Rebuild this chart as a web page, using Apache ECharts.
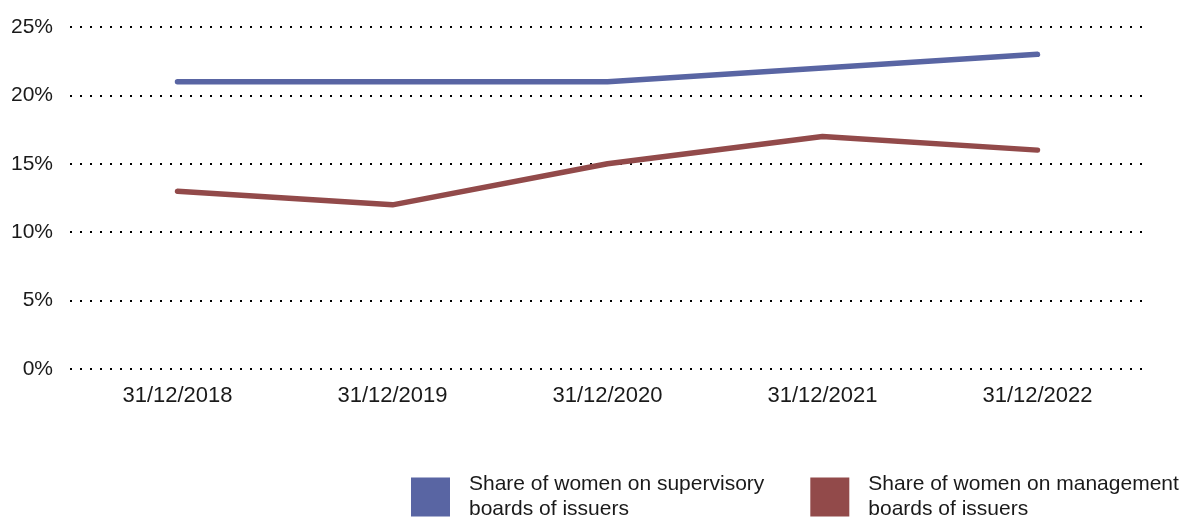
<!DOCTYPE html>
<html>
<head>
<meta charset="utf-8">
<script src="https://cdn.jsdelivr.net/npm/echarts@6/dist/echarts.min.js"></script>
<style>
  html, body { margin: 0; padding: 0; background: #fff; }
  #main { width: 1196px; height: 517px; }
</style>
</head>
<body>
<div id="main"></div>
<script>
// categories and values (percent)
var years = ['31/12/2018', '31/12/2019', '31/12/2020', '31/12/2021', '31/12/2022'];
var supervisory = [21, 21, 21, 22, 23];
var management = [13, 12, 15, 17, 16];
var nameSup = 'Share of women on supervisory\nboards of issuers';
var nameMan = 'Share of women on management\nboards of issuers';

var chart = echarts.init(document.getElementById('main'));
var font = 'Liberation Sans, Arial, Helvetica, sans-serif';

chart.setOption({
  animation: false,
  textStyle: { fontFamily: font },
  grid: { left: 70, right: 51, top: 27, bottom: 148 },
  legend: {
    left: 411,
    top: 472,
    padding: 0,
    icon: 'rect',
    itemWidth: 39,
    itemHeight: 39,
    itemGap: 46,
    textStyle: { fontSize: 21, color: '#1a1a1a', lineHeight: 25, fontFamily: font, padding: [0, 0, 0, 14] },
    data: [
      { name: nameSup, itemStyle: { color: '#5965a3' } },
      { name: nameMan, itemStyle: { color: '#924a4a' } }
    ]
  },
  xAxis: {
    type: 'category',
    data: years,
    boundaryGap: true,
    axisLine: { show: false },
    axisTick: { show: false },
    axisLabel: { fontSize: 22, color: '#1a1a1a', margin: 16, fontFamily: font }
  },
  yAxis: {
    type: 'value',
    min: 0,
    max: 25,
    interval: 5,
    axisLine: { show: false },
    axisTick: { show: false },
    axisLabel: { fontSize: 21, color: '#1a1a1a', margin: 17, formatter: '{value}%', fontFamily: font },
    splitLine: { lineStyle: { color: '#000', width: 2.2, type: [2, 8] } }
  },
  series: [
    {
      name: nameSup,
      type: 'line',
      data: supervisory,
      symbol: 'none',
      lineStyle: { color: '#5965a3', width: 5.5, cap: 'round', join: 'round' },
      itemStyle: { color: '#5965a3' }
    },
    {
      name: nameMan,
      type: 'line',
      data: management,
      symbol: 'none',
      lineStyle: { color: '#924a4a', width: 5.5, cap: 'round', join: 'round' },
      itemStyle: { color: '#924a4a' }
    }
  ]
});
</script>
</body>
</html>
